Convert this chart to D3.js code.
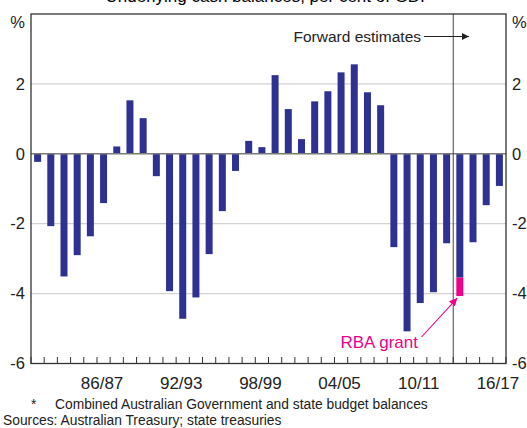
<!DOCTYPE html>
<html>
<head>
<meta charset="utf-8">
<script src="https://cdn.jsdelivr.net/npm/d3@7"></script>
<style>
  html, body { margin: 0; padding: 0; background: #fff; }
  svg { display: block; font-family: "Liberation Sans", Arial, sans-serif; }
</style>
</head>
<body>
<svg id="chart" width="527" height="428"></svg>
<script>
// ---- data ----
const years = ["81/82","82/83","83/84","84/85","85/86","86/87","87/88","88/89","89/90","90/91",
  "91/92","92/93","93/94","94/95","95/96","96/97","97/98","98/99","99/00","00/01",
  "01/02","02/03","03/04","04/05","05/06","06/07","07/08","08/09","09/10","10/11",
  "11/12","12/13","13/14","14/15","15/16","16/17"];
const balances = [-0.23,-2.07,-3.51,-2.90,-2.36,-1.41,0.21,1.53,1.02,-0.64,
  -3.93,-4.72,-4.11,-2.87,-1.64,-0.49,0.37,0.19,2.25,1.28,
  0.42,1.50,1.79,2.33,2.56,1.76,1.39,-2.67,-5.08,-4.27,
  -3.96,-2.56,-3.54,-2.53,-1.47,-0.92];
const rbaGrantYear = ["13/14"];
const rbaGrant = [-0.53];
const xTickLabels = ["86/87","92/93","98/99","04/05","10/11","16/17"];
const yTicks = [-6,-4,-2,0,2];
const gridValues = [-4,-2,2];
const forecastStart = "13/14";

// ---- layout ----
const L = 31, R = 506, T = 14, B = 363.5;
const svg = d3.select("#chart");
const blue = "#2e3192", pink = "#ec008c";

const x = d3.scaleBand().domain(years).range([L, R]).paddingInner(0.47).paddingOuter(0.235);
const y = d3.scaleLinear().domain([-6, 4]).range([B, T]);
const step = x.step();

// title (cut off at top, as in the reference)
svg.append("text").attr("x", (L + R) / 2).attr("y", 2).attr("text-anchor", "middle")
  .attr("font-size", 17).attr("fill", "#000").text("Underlying cash balances, per cent of GDP");

// gridlines
svg.append("g").selectAll("line").data(gridValues).join("line")
  .attr("x1", L).attr("x2", R).attr("y1", d => y(d)).attr("y2", d => y(d))
  .attr("stroke", "#d2d2d2").attr("stroke-width", 1.2);

// bars
svg.append("g").selectAll("rect").data(years.map((c, i) => ({c, v: balances[i]}))).join("rect")
  .attr("x", d => x(d.c)).attr("width", x.bandwidth())
  .attr("y", d => y(Math.max(0, d.v))).attr("height", d => Math.abs(y(d.v) - y(0)))
  .attr("fill", blue);

// RBA grant segment
svg.append("g").selectAll("rect").data(rbaGrantYear.map((c, i) => ({c, v: rbaGrant[i], base: balances[years.indexOf(c)]}))).join("rect")
  .attr("x", d => x(d.c)).attr("width", x.bandwidth())
  .attr("y", d => y(d.base)).attr("height", d => y(d.base + d.v) - y(d.base))
  .attr("fill", pink);

// zero line
svg.append("line").attr("x1", L).attr("x2", R).attr("y1", y(0)).attr("y2", y(0))
  .attr("stroke", "#7a7a7a").attr("stroke-width", 1.5);

// forward estimates vertical line
const fx = x(forecastStart) - (step - x.bandwidth()) / 2;
svg.append("line").attr("x1", fx).attr("x2", fx).attr("y1", T).attr("y2", B)
  .attr("stroke", "#444").attr("stroke-width", 1);

// bottom ticks
const tickXs = d3.range(years.length + 1).map(i => L + i * step);
svg.append("g").selectAll("line").data(tickXs).join("line")
  .attr("x1", d => d).attr("x2", d => d).attr("y1", B).attr("y2", B - 6.5)
  .attr("stroke", "#333").attr("stroke-width", 1);

// frame
svg.append("rect").attr("x", L).attr("y", T).attr("width", R - L).attr("height", B - T)
  .attr("fill", "none").attr("stroke", "#333").attr("stroke-width", 1.3);

// y labels
const yl = svg.append("g").attr("font-size", 16.5).attr("fill", "#222");
yl.selectAll("text.l").data(yTicks).join("text").attr("class", "l")
  .attr("x", L - 6).attr("y", d => y(d)).attr("dy", "0.35em").attr("text-anchor", "end").text(d => d);
yl.selectAll("text.r").data(yTicks).join("text").attr("class", "r")
  .attr("x", R + 6).attr("y", d => y(d)).attr("dy", "0.35em").attr("text-anchor", "start").text(d => d);
yl.append("text").attr("x", L - 6).attr("y", 22.5).attr("dy", "0.35em").attr("text-anchor", "end").text("%");
yl.append("text").attr("x", R + 6).attr("y", 22.5).attr("dy", "0.35em").attr("text-anchor", "start").text("%");

// x labels
svg.append("g").attr("font-size", 17).attr("fill", "#222").selectAll("text").data(xTickLabels).join("text")
  .attr("x", d => x(d) + x.bandwidth() / 2 - 1.5).attr("y", 382.7).attr("dy", "0.35em")
  .attr("text-anchor", "middle").text(d => d);

// forward estimates annotation
svg.append("defs").html(`
  <marker id="ab" viewBox="0 0 10 10" refX="10" refY="5" markerWidth="7" markerHeight="7" markerUnits="userSpaceOnUse" orient="auto">
    <path d="M0,0 L10,5 L0,10 z" fill="#222"/></marker>
  <marker id="ap" viewBox="0 0 10 10" refX="10" refY="5" markerWidth="8" markerHeight="8" markerUnits="userSpaceOnUse" orient="auto">
    <path d="M0,0 L10,5 L0,10 z" fill="${pink}"/></marker>`);
svg.append("text").attr("x", 421).attr("y", 36.5).attr("dy", "0.35em").attr("text-anchor", "end")
  .attr("font-size", 15.5).attr("fill", "#222").text("Forward estimates");
svg.append("line").attr("x1", 424).attr("x2", 469).attr("y1", 36.5).attr("y2", 36.5)
  .attr("stroke", "#222").attr("stroke-width", 1).attr("marker-end", "url(#ab)");

// RBA grant annotation
svg.append("text").attr("x", 418).attr("y", 341.7).attr("dy", "0.35em").attr("text-anchor", "end")
  .attr("font-size", 17).attr("fill", pink).text("RBA grant");
const gx = x("13/14") + x.bandwidth() / 2 - 2.5;
svg.append("line").attr("x1", 421.5).attr("y1", 337).attr("x2", gx).attr("y2", y(balances[32] + rbaGrant[0]) + 2)
  .attr("stroke", pink).attr("stroke-width", 1.1).attr("marker-end", "url(#ap)");

// footnotes
const fn = svg.append("g").attr("font-size", 13.8).attr("fill", "#222");
fn.append("text").attr("x", 31).attr("y", 404.5).attr("dy", "0.35em").text("*");
fn.append("text").attr("x", 55).attr("y", 404.5).attr("dy", "0.35em").text("Combined Australian Government and state budget balances");
fn.append("text").attr("x", 3).attr("y", 420).attr("dy", "0.35em").text("Sources: Australian Treasury; state treasuries");
</script>
</body>
</html>
